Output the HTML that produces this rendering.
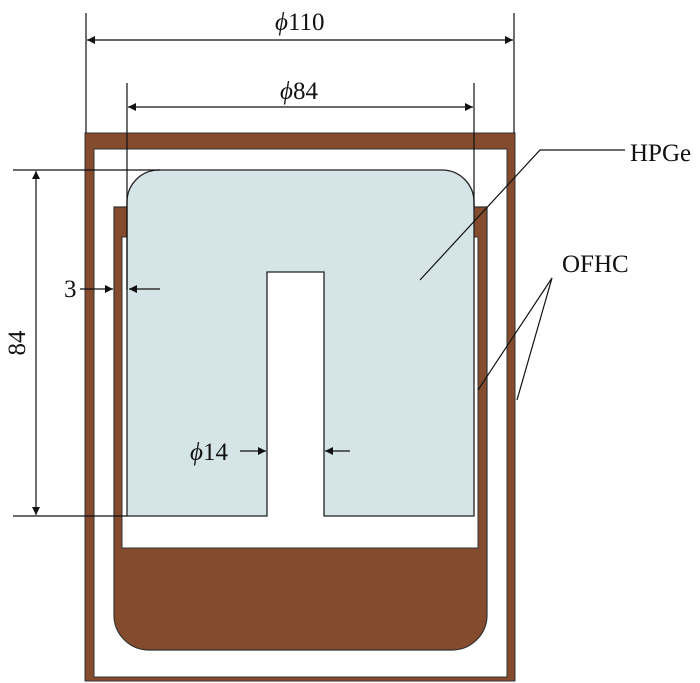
<!DOCTYPE html>
<html><head><style>body{margin:0;background:#fff}svg{display:block}</style></head><body>
<svg width="700" height="683" viewBox="0 0 700 683" xmlns="http://www.w3.org/2000/svg" font-family="Liberation Serif, serif">
<defs>
<marker id="a" viewBox="0 0 10 10" refX="10" refY="5" markerWidth="15" markerHeight="8" markerUnits="userSpaceOnUse" orient="auto-start-reverse"><path d="M0,0L10,5L0,10z" fill="#111"/></marker>
</defs>
<path d="M85,133H515V681H85Z M94,149V677H507V149Z" fill="#844b2d" fill-rule="evenodd" stroke="#333" stroke-width="1"/>
<path d="M114,207H487V615A35,35 0 0 1 452,650H149A35,35 0 0 1 114,615Z" fill="#844b2d" stroke="#333" stroke-width="1.2"/>
<rect x="122" y="237" width="356" height="311" fill="#fff" stroke="#333" stroke-width="1"/>
<path d="M127,516V202A32,32 0 0 1 159,170H442A32,32 0 0 1 474,202V516H324V272H267V516Z" fill="#d5e4e6" stroke="#222" stroke-width="1.3"/>
<g stroke="#111" stroke-width="1.2" fill="none">
<line x1="86" y1="13" x2="86" y2="133"/><line x1="514" y1="13" x2="514" y2="133"/>
<line x1="87" y1="40" x2="513" y2="40" marker-start="url(#a)" marker-end="url(#a)"/>
<line x1="127" y1="83" x2="127" y2="290"/><line x1="474" y1="83" x2="474" y2="207"/>
<line x1="128" y1="107" x2="473" y2="107" marker-start="url(#a)" marker-end="url(#a)"/>
<line x1="13" y1="170" x2="160" y2="170"/><line x1="13" y1="516" x2="127" y2="516"/>
<line x1="36" y1="171" x2="36" y2="515" marker-start="url(#a)" marker-end="url(#a)"/>
<line x1="80" y1="289" x2="113" y2="289" marker-end="url(#a)"/>
<line x1="160" y1="289" x2="129" y2="289" marker-end="url(#a)"/>
<line x1="240" y1="451" x2="266" y2="451" marker-end="url(#a)"/>
<line x1="350" y1="451" x2="325" y2="451" marker-end="url(#a)"/>
<polyline points="420,280 540,150 625,150"/>
<line x1="552" y1="278" x2="478" y2="390"/>
<line x1="552" y1="278" x2="517" y2="400"/>
</g>
<g font-size="25" fill="#111">
<text x="275" y="30"><tspan font-style="italic">ϕ</tspan>110</text>
<text x="280" y="99"><tspan font-style="italic">ϕ</tspan>84</text>
<text x="190" y="460"><tspan font-style="italic">ϕ</tspan>14</text>
<text x="64" y="297">3</text>
<text x="630" y="161">HPGe</text>
<text x="562" y="272">OFHC</text>
<text transform="translate(25,343) rotate(-90)" text-anchor="middle">84</text>
</g>
</svg>
</body></html>
